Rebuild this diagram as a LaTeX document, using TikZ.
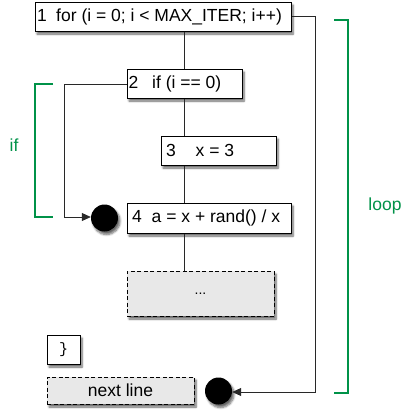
\documentclass[tikz,border=0pt]{standalone}
\usepackage{fontspec}
\setmainfont{Liberation Sans}
\setmonofont{Liberation Mono}
\usetikzlibrary{shadows,shadows.blur,arrows.meta,calc}
\definecolor{grn}{RGB}{0,146,72}
\definecolor{ln}{RGB}{40,40,40}
\definecolor{boxgray}{RGB}{232,232,232}
\begin{document}
\begin{tikzpicture}[x=1pt,y=-1pt,
  box/.style={draw=black,line width=1pt,fill=white,minimum height=29pt,inner sep=0pt,
    font=\fontsize{17.5}{20}\selectfont,
    blur shadow={shadow xshift=2pt,shadow yshift=-3pt,shadow blur steps=6,shadow opacity=60}},
  dbox/.style={box,fill=boxgray,dash pattern=on 4pt off 2.5pt},
  conn/.style={draw=ln,line width=0.8pt},
  dot/.style={circle,fill=black,minimum size=27pt,inner sep=0pt,
    blur shadow={shadow xshift=2pt,shadow yshift=-3pt,shadow blur steps=6,shadow opacity=60}},
  brk/.style={draw=grn,line width=1.6pt},
  glabel/.style={text=grn,font=\fontsize{17.5}{20}\selectfont}]
\useasboundingbox (0,0) rectangle (403,410);
\node[box,inner xsep=2pt] (b1) at (163,16.5) {\makebox[252pt][l]{1\hspace{9.5pt}for (i = 0; i < MAX\_ITER; i++)}};
\node[box,inner xsep=1.5pt] (b2) at (184.5,83.5) {\makebox[112pt][l]{2\hspace{14pt}if (i == 0)}};
\node[box,inner xsep=5pt] (b3) at (218.5,150.5) {\makebox[105pt][l]{3\hspace{20pt}x = 3}};
\node[box,minimum height=30pt,inner xsep=5pt] (b4) at (209,218) {\makebox[154pt][l]{4\hspace{10pt}a = x + rand() / x}};
\node[dbox,minimum width=147pt,minimum height=45pt,font=\fontsize{14}{16}\selectfont] (dots) at (200.5,293.5) {...};
\node[box,minimum width=33pt] (brace) at (63.5,349.5) {\ttfamily\fontsize{15}{16}\selectfont \}};
\node[dbox,minimum width=147pt,minimum height=27pt] (next) at (120.5,390.5) {next line};
\node[dot] (c1) at (104.5,218) {};
\node[dot] (c2) at (218.5,391) {};
\coordinate (t1) at (315,16);
\coordinate (t2) at (315,392);
\coordinate (u1) at (64,84);
\coordinate (u2) at (64,217);
\draw[conn] (b1.south -| 184,0) -- (b2.north -| 184,0);
\draw[conn] (b2.south -| 184,0) -- (b3.north -| 184,0);
\draw[conn] (b3.south -| 184,0) -- (b4.north -| 184,0);
\draw[conn] (b4.south -| 184,0) -- (dots.north -| 184,0);
\draw[conn,-{Triangle[length=9pt,width=8pt]}] (b1.east |- t1) -- (t1) -- (t2) -- (c2.east |- t2);
\draw[conn,-{Triangle[length=9pt,width=8pt]}] (b2.west |- u1) -- (u1) -- (u2) -- (c1.west |- u2);
\coordinate (ia) at (53,84);
\coordinate (ib) at (35,84);
\coordinate (ic) at (35,217);
\coordinate (id) at (53,217);
\draw[brk] (ia) -- (ib) -- (ic) -- (id);
\coordinate (la) at (334,20);
\coordinate (lb) at (348,20);
\coordinate (lc) at (348,393);
\coordinate (ld) at (334,393);
\draw[brk] (la) -- (lb) -- (lc) -- (ld);
\node[glabel] (iflab) at (14,145) {if};
\node[glabel] (looplab) at (385,206) {loop};
\end{tikzpicture}
\end{document}
